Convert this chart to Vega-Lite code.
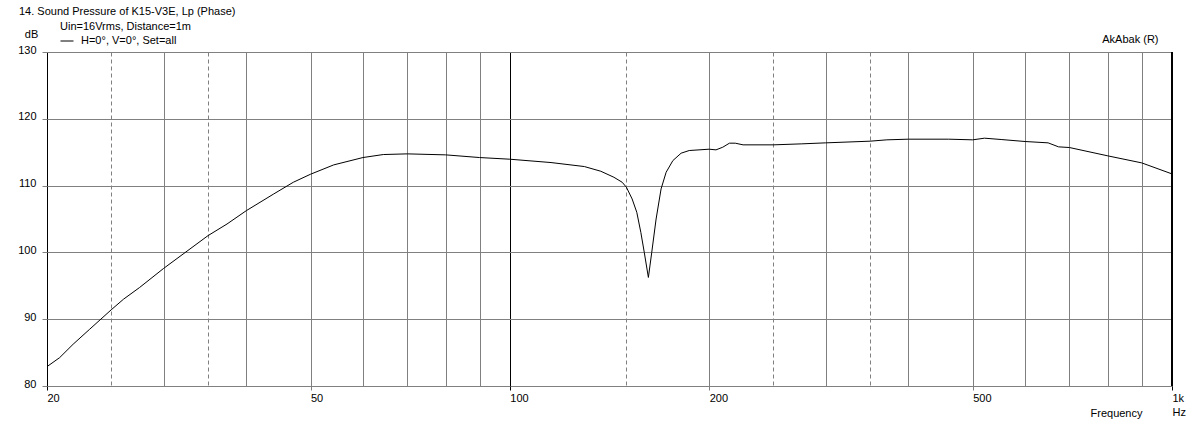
{
  "$schema": "https://vega.github.io/schema/vega-lite/v6.json",
  "width": 1125,
  "height": 334,
  "autosize": {"type": "none"},
  "padding": {"left": 47, "top": 52, "right": 30, "bottom": 40},
  "background": "white",
  "config": {
    "font": "Liberation Sans",
    "view": {"stroke": null},
    "axis": {"labelFont": "Liberation Sans", "titleFont": "Liberation Sans"}
  },
  "title": {
    "text": "14. Sound Pressure of K15-V3E, Lp (Phase)",
    "anchor": "start",
    "frame": "group",
    "dx": -28,
    "offset": 4,
    "fontSize": 11,
    "fontWeight": "normal",
    "color": "black",
    "font": "Liberation Sans"
  },
  "data": {
    "values": [
      {"freq": 20, "spl": 82.9},
      {"freq": 20.9, "spl": 84.25},
      {"freq": 21.9, "spl": 86.25},
      {"freq": 23.2, "spl": 88.5},
      {"freq": 25, "spl": 91.4},
      {"freq": 26.1, "spl": 93.0},
      {"freq": 27.6, "spl": 94.75},
      {"freq": 30, "spl": 97.6},
      {"freq": 32.1, "spl": 99.75},
      {"freq": 35, "spl": 102.5},
      {"freq": 37.4, "spl": 104.25},
      {"freq": 40, "spl": 106.25},
      {"freq": 44, "spl": 108.75},
      {"freq": 47.1, "spl": 110.5},
      {"freq": 50, "spl": 111.7},
      {"freq": 54.2, "spl": 113.1},
      {"freq": 60, "spl": 114.2},
      {"freq": 64.4, "spl": 114.65},
      {"freq": 70, "spl": 114.75},
      {"freq": 80, "spl": 114.6},
      {"freq": 90, "spl": 114.2},
      {"freq": 100, "spl": 113.95},
      {"freq": 115.4, "spl": 113.45},
      {"freq": 129.6, "spl": 112.85},
      {"freq": 137.2, "spl": 112.15},
      {"freq": 143.6, "spl": 111.25},
      {"freq": 147.8, "spl": 110.5},
      {"freq": 150, "spl": 109.75},
      {"freq": 153, "spl": 108.0},
      {"freq": 155.5, "spl": 106.0},
      {"freq": 157.7, "spl": 103.0},
      {"freq": 159.6, "spl": 100.0},
      {"freq": 161.9, "spl": 96.25},
      {"freq": 163.8, "spl": 100.0},
      {"freq": 166.3, "spl": 105.0},
      {"freq": 169.2, "spl": 109.5},
      {"freq": 172.2, "spl": 112.0},
      {"freq": 176.3, "spl": 113.75},
      {"freq": 181.4, "spl": 114.85},
      {"freq": 186.6, "spl": 115.25},
      {"freq": 200, "spl": 115.45},
      {"freq": 204.8, "spl": 115.35},
      {"freq": 209.7, "spl": 115.75},
      {"freq": 214.6, "spl": 116.35},
      {"freq": 219, "spl": 116.35},
      {"freq": 225, "spl": 116.1},
      {"freq": 250, "spl": 116.1},
      {"freq": 276, "spl": 116.25},
      {"freq": 300, "spl": 116.4},
      {"freq": 350, "spl": 116.65},
      {"freq": 371, "spl": 116.85},
      {"freq": 400, "spl": 116.95},
      {"freq": 460, "spl": 116.95},
      {"freq": 500, "spl": 116.85},
      {"freq": 521, "spl": 117.1},
      {"freq": 552, "spl": 116.9},
      {"freq": 600, "spl": 116.6},
      {"freq": 650, "spl": 116.4},
      {"freq": 674, "spl": 115.8},
      {"freq": 700, "spl": 115.7},
      {"freq": 800, "spl": 114.45},
      {"freq": 900, "spl": 113.4},
      {"freq": 1000, "spl": 111.75}
    ]
  },
  "layer": [
    {
      "mark": {"type": "line", "strokeWidth": 1},
      "encoding": {
        "x": {
          "field": "freq",
          "type": "quantitative",
          "scale": {"type": "log", "domain": [20, 1000], "nice": false},
          "axis": {
            "values": [20, 25, 30, 35, 40, 50, 60, 70, 80, 90, 100, 150, 200, 250, 300, 350, 400, 500, 600, 700, 800, 900, 1000],
            "labelExpr": "datum.value == 20 ? '20' : datum.value == 50 ? '50' : datum.value == 100 ? '100' : datum.value == 200 ? '200' : datum.value == 500 ? '500' : datum.value == 1000 ? ['1k', 'Hz'] : ''",
            "title": "Frequency",
            "titleX": 1095,
            "titleY": 30,
            "titleAlign": "right",
            "titleBaseline": "alphabetic",
            "titleFontWeight": "normal",
            "titleFontSize": 11,
            "titleColor": "black",
            "labelFontSize": 11,
            "labelColor": "black",
            "labelAlign": "left",
            "labelBaseline": "top",
            "labelPadding": 2,
            "labelFlush": false,
            "labelOverlap": false,
            "labelLineHeight": 14,
            "domain": false,
            "grid": true,
            "gridColor": {"condition": {"test": "datum.value == 20 || datum.value == 100 || datum.value == 1000", "value": "black"}, "value": "#808080"},
            "gridDash": {"condition": {"test": "indexof([25, 35, 150, 250, 350], datum.value) >= 0", "value": [4, 3]}, "value": []},
            "tickSize": 4,
            "tickColor": {"condition": {"test": "datum.value == 20 || datum.value == 100 || datum.value == 1000", "value": "black"}, "value": "#808080"},
            "tickOpacity": {"condition": {"test": "indexof([20, 50, 100, 200, 500, 1000], datum.value) >= 0", "value": 1}, "value": 0}
          }
        },
        "y": {
          "field": "spl",
          "type": "quantitative",
          "scale": {"domain": [80, 130], "nice": false, "zero": false},
          "axis": {
            "values": [80, 90, 100, 110, 120, 130],
            "title": "dB",
            "titleAngle": 0,
            "titleX": -16,
            "titleY": -15,
            "titleAlign": "center",
            "titleBaseline": "alphabetic",
            "titleFontWeight": "normal",
            "titleFontSize": 11,
            "titleColor": "black",
            "labelFontSize": 11,
            "labelColor": "black",
            "labelPadding": 6,
            "labelBaseline": "middle",
            "labelOffset": -2,
            "labelFlush": false,
            "labelOverlap": false,
            "domain": false,
            "grid": true,
            "gridColor": "#808080",
            "tickSize": 5,
            "tickColor": "#808080"
          }
        },
        "color": {
          "datum": "H=0°, V=0°, Set=all",
          "type": "nominal",
          "scale": {"range": ["black"]},
          "legend": {
            "orient": "none",
            "legendX": 13,
            "legendY": -31,
            "title": "Uin=16Vrms, Distance=1m",
            "titleFontSize": 11,
            "titleFontWeight": "normal",
            "titleColor": "black",
            "titlePadding": 2,
            "labelFontSize": 11,
            "labelColor": "black",
            "labelOffset": 7,
            "symbolType": "stroke",
            "symbolStrokeWidth": 1,
            "symbolSize": 169,
            "symbolStrokeColor": "black",
            "padding": 0
          }
        }
      }
    },
    {
      "mark": {"type": "rule", "color": "black", "strokeWidth": 1},
      "encoding": {
        "x": {
          "datum": 1000,
          "type": "quantitative",
          "axis": {
            "orient": "top",
            "title": "AkAbak (R)",
            "titleX": 1111,
            "titleY": -10,
            "titleAlign": "right",
            "titleBaseline": "alphabetic",
            "titleFontWeight": "normal",
            "titleFontSize": 11,
            "titleColor": "black",
            "labels": false,
            "ticks": false,
            "domain": false,
            "grid": false
          }
        }
      }
    }
  ],
  "resolve": {"axis": {"x": "independent"}}
}
